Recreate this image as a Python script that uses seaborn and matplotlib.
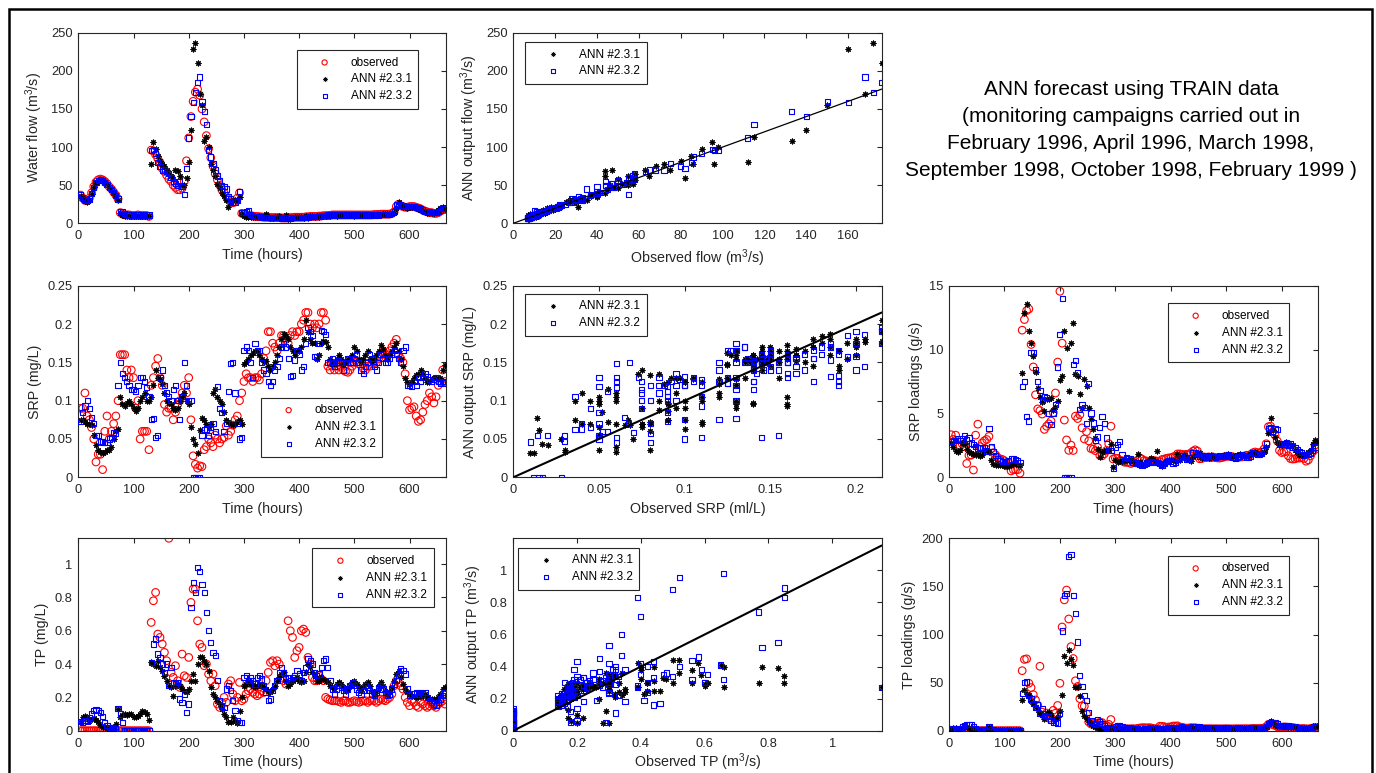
import numpy as np
import pandas as pd
import matplotlib
matplotlib.use("Agg")
import matplotlib.pyplot as plt
import seaborn as sns
from matplotlib.patches import Rectangle

# ---------------- data (4-hour sampling grid) ----------------
hours = np.arange(4, 668, 4)

flow_obs = [
    37, 33, 30, 30, 33, 40, 48, 54, 57, 58,
    57, 55, 52, 48, 45, 41, 37, 32, 14, 12,
    11, 11, 11, 10, 10, 10, 11, 10, 10, 10,
    10, 9, 96, 95, 90, 85, 80, 72, 68, 63,
    58, 55, 50, 47, 44, 44, 46, 55, 82, 112,
    140, 160, 172, 176, 168, 150, 133, 115, 98, 86,
    75, 65, 57, 50, 44, 40, 35, 31, 28, 27,
    28, 33, 40, 13, 12, 11, 10, 10, 9.5, 9,
    9, 8.5, 8.5, 8, 8, 8, 7.5, 7.5, 7.5, 7.5,
    7.5, 7, 7, 7, 7, 7.5, 7.5, 8, 8, 8,
    8, 8, 8.5, 8.5, 9, 9, 9, 9, 9.5, 9.5,
    10, 10, 10, 10.5, 11, 11, 11, 11, 11, 11,
    11, 11, 11, 11, 11, 11, 11, 11, 11, 11,
    11, 11, 11, 11.5, 11.5, 11.5, 12, 12, 12, 12,
    12, 13, 15, 22, 25, 23, 22, 21, 21, 22,
    22, 22, 21, 20, 19, 17, 16, 15, 14, 14,
    13, 13, 14, 16, 18, 18]

flow_ann1 = [
    36, 32, 29, 28, 31, 39, 47, 53, 56, 57,
    56, 54, 51, 47, 44, 40, 36, 31, 13, 11,
    10, 10, 10, 10, 10, 10, 10, 10, 10, 10,
    10, 10, 78, 107, 97, 88, 82, 78, 75, 70,
    65, 62, 58, 70, 68, 62, 50, 50, 60, 80,
    122, 229, 236, 210, 170, 155, 108, 113, 100, 78,
    70, 62, 52, 46, 40, 36, 30, 22, 28, 30,
    30, 30, 35, 12, 9, 8, 8, 8, 8, 8,
    8, 9, 8, 8, 12, 8, 7, 7, 8, 8,
    9, 8, 7, 11, 6, 5, 7, 8, 8, 8,
    8, 7, 9, 7, 9, 10, 8, 9, 8, 9,
    10, 10, 11, 10, 11, 11, 10, 11, 11, 11,
    11, 11, 11, 11, 10, 11, 11, 11, 11, 11,
    11, 11, 11, 11, 11, 11, 11, 12, 12, 12,
    12, 12, 14, 20, 28, 24, 22, 21, 20, 21,
    21, 21, 20, 19, 18, 16, 15, 14, 14, 14,
    14, 15, 17, 20, 21, 19]

flow_ann2 = [
    38, 34, 31, 30, 32, 39, 47, 53, 56, 57,
    56, 54, 51, 47, 44, 40, 36, 32, 16, 15,
    13, 12, 11, 11, 11, 11, 11, 11, 11, 11,
    11, 11, 95, 97, 92, 80, 75, 70, 70, 68,
    65, 60, 55, 52, 50, 55, 48, 38, 72, 112,
    140, 158, 172, 185, 192, 160, 147, 130, 96, 87,
    78, 70, 62, 56, 50, 48, 45, 35, 32, 28,
    28, 30, 42, 14, 14, 15, 17, 12, 10, 9,
    9, 9, 8, 8, 8, 8, 8, 8, 8, 8,
    8, 7, 7, 7, 7, 7, 8, 8, 8, 8,
    8, 8, 8, 8, 9, 9, 9, 9, 9, 10,
    10, 10, 11, 11, 11, 11, 11, 11, 11, 11,
    11, 11, 11, 11, 11, 11, 11, 11, 11, 11,
    11, 11, 11, 11, 11, 11, 12, 12, 12, 12,
    12, 13, 16, 24, 25, 24, 23, 22, 22, 22,
    22, 22, 21, 20, 19, 18, 16, 15, 15, 14,
    14, 14, 15, 17, 19, 19]

srp_obs = [
    0.09, 0.09, 0.11, 0.08, 0.075, 0.065, 0.05, 0.02, 0.03, 0.03,
    0.01, 0.06, 0.08, 0.05, 0.06, 0.07, 0.08, 0.10, 0.16, 0.16,
    0.16, 0.14, 0.13, 0.14, 0.13, 0.09, 0.10, 0.05, 0.06, 0.06,
    0.06, 0.036, 0.12, 0.13, 0.145, 0.155, 0.13, 0.12, 0.095, 0.085,
    0.09, 0.09, 0.075, 0.085, 0.095, 0.10, 0.11, 0.12, 0.11, 0.13,
    0.075, 0.028, 0.017, 0.012, 0.015, 0.014, 0.036, 0.04, 0.05, 0.045,
    0.04, 0.055, 0.05, 0.045, 0.05, 0.052, 0.067, 0.055, 0.06, 0.068,
    0.075, 0.08, 0.10, 0.11, 0.125, 0.135, 0.13, 0.13, 0.125, 0.13,
    0.13, 0.127, 0.135, 0.155, 0.165, 0.19, 0.19, 0.175, 0.17, 0.165,
    0.175, 0.185, 0.185, 0.18, 0.175, 0.185, 0.19, 0.185, 0.19, 0.19,
    0.20, 0.205, 0.215, 0.215, 0.20, 0.195, 0.20, 0.195, 0.20, 0.215,
    0.215, 0.205, 0.145, 0.14, 0.145, 0.14, 0.145, 0.14, 0.145, 0.14,
    0.138, 0.137, 0.14, 0.145, 0.15, 0.15, 0.148, 0.146, 0.142, 0.14,
    0.145, 0.145, 0.148, 0.15, 0.15, 0.155, 0.16, 0.165, 0.16, 0.16,
    0.165, 0.17, 0.175, 0.18, 0.16, 0.155, 0.15, 0.135, 0.10, 0.088,
    0.09, 0.092, 0.08, 0.073, 0.075, 0.085, 0.095, 0.10, 0.11, 0.105,
    0.097, 0.105, 0.12, 0.125, 0.14, 0.125]

srp_ann1 = [
    0.075, 0.075, 0.072, 0.07, 0.07, 0.068, 0.055, 0.042, 0.035, 0.033,
    0.032, 0.033, 0.035, 0.035, 0.04, 0.05, 0.06, 0.063, 0.105, 0.095,
    0.093, 0.097, 0.10, 0.095, 0.09, 0.087, 0.09, 0.10, 0.105, 0.11,
    0.10, 0.10, 0.105, 0.12, 0.14, 0.13, 0.128, 0.122, 0.11, 0.10,
    0.097, 0.095, 0.09, 0.088, 0.09, 0.10, 0.105, 0.11, 0.10, 0.095,
    0.065, 0.05, 0.043, 0.032, 0.062, 0.078, 0.075, 0.07, 0.065, 0.07,
    0.11, 0.115, 0.105, 0.10, 0.095, 0.085, 0.075, 0.072, 0.07, 0.068,
    0.07, 0.072, 0.075, 0.07, 0.148, 0.15, 0.155, 0.16, 0.162, 0.165,
    0.165, 0.16, 0.155, 0.15, 0.152, 0.145, 0.14, 0.145, 0.15, 0.16,
    0.17, 0.18, 0.187, 0.185, 0.18, 0.17, 0.165, 0.16, 0.165, 0.165,
    0.17, 0.18, 0.205, 0.19, 0.18, 0.175, 0.175, 0.155, 0.16, 0.175,
    0.178, 0.176, 0.17, 0.155, 0.148, 0.148, 0.155, 0.16, 0.155, 0.148,
    0.15, 0.155, 0.155, 0.16, 0.17, 0.165, 0.155, 0.15, 0.155, 0.16,
    0.165, 0.155, 0.15, 0.155, 0.16, 0.165, 0.172, 0.168, 0.16, 0.155,
    0.16, 0.165, 0.17, 0.175, 0.165, 0.155, 0.145, 0.13, 0.125, 0.122,
    0.125, 0.13, 0.133, 0.135, 0.14, 0.135, 0.13, 0.125, 0.125, 0.128,
    0.13, 0.13, 0.128, 0.13, 0.14, 0.147]

srp_ann2 = [
    0.073, 0.085, 0.093, 0.10, 0.09, 0.078, 0.07, 0.055, 0.055, 0.047,
    0.046, 0.045, 0.045, 0.05, 0.052, 0.058, 0.057, 0.12, 0.15, 0.135,
    0.13, 0.125, 0.12, 0.115, 0.115, 0.112, 0.12, 0.13, 0.13, 0.125,
    0.117, 0.105, 0.075, 0.077, 0.052, 0.055, 0.13, 0.14, 0.12, 0.11,
    0.105, 0.10, 0.115, 0.12, 0.10, 0.075, 0.105, 0.15, 0.12, 0.10,
    0.10, 0.0, 0.0, 0.0, 0.0, 0.055, 0.062, 0.063, 0.055, 0.065,
    0.07, 0.06, 0.118, 0.09, 0.085, 0.06, 0.07, 0.112, 0.148, 0.15,
    0.11, 0.07, 0.05, 0.052, 0.165, 0.17, 0.165, 0.15, 0.13, 0.175,
    0.165, 0.165, 0.15, 0.14, 0.135, 0.125, 0.12, 0.125, 0.14, 0.145,
    0.155, 0.17, 0.175, 0.17, 0.155, 0.132, 0.133, 0.153, 0.165, 0.16,
    0.14, 0.145, 0.175, 0.195, 0.19, 0.185, 0.158, 0.157, 0.175, 0.192,
    0.19, 0.186, 0.15, 0.15, 0.155, 0.145, 0.15, 0.152, 0.15, 0.14,
    0.15, 0.155, 0.15, 0.15, 0.155, 0.16, 0.15, 0.14, 0.135, 0.145,
    0.15, 0.16, 0.155, 0.145, 0.14, 0.15, 0.16, 0.155, 0.15, 0.15,
    0.155, 0.16, 0.165, 0.16, 0.155, 0.15, 0.165, 0.17, 0.12, 0.12,
    0.118, 0.125, 0.12, 0.13, 0.125, 0.13, 0.135, 0.132, 0.128, 0.125,
    0.128, 0.13, 0.125, 0.123, 0.125, 0.123]

tp_obs = [
    0, 0, 0, 0, 0, 0, 0, 0, 0, 0,
    0, 0, 0, 0, 0, 0, 0, 0, 0, 0,
    0, 0, 0, 0, 0, 0, 0, 0, 0, 0,
    0, 0, 0.65, 0.78, 0.83, 0.58, 0.56, 0.52, 0.47, 0.42,
    1.155, 0.35, 0.32, 0.39, 0.30, 0.26, 0.46, 0.33, 0.32, 0.44,
    0.77, 0.85, 0.85, 0.66, 0.52, 0.50, 0.39, 0.40, 0.34, 0.30,
    0.34, 0.27, 0.16, 0.14, 0.17, 0.20, 0.17, 0.28, 0.30, 0.22,
    0.18, 0.20, 0.29, 0.18, 0.19, 0.22, 0.24, 0.25, 0.23, 0.22,
    0.21, 0.22, 0.24, 0.23, 0.30, 0.35, 0.41, 0.42, 0.39, 0.42,
    0.40, 0.32, 0.30, 0.28, 0.66, 0.60, 0.56, 0.44, 0.48, 0.50,
    0.60, 0.61, 0.59, 0.44, 0.40, 0.32, 0.30, 0.30, 0.33, 0.31,
    0.30, 0.20, 0.19, 0.185, 0.18, 0.18, 0.18, 0.175, 0.17, 0.18,
    0.18, 0.17, 0.17, 0.175, 0.18, 0.175, 0.17, 0.175, 0.18, 0.18,
    0.17, 0.18, 0.185, 0.18, 0.17, 0.18, 0.19, 0.185, 0.18, 0.19,
    0.20, 0.22, 0.27, 0.30, 0.29, 0.27, 0.25, 0.20, 0.17, 0.15,
    0.18, 0.17, 0.15, 0.14, 0.17, 0.16, 0.15, 0.14, 0.15, 0.16,
    0.15, 0.14, 0.16, 0.17, 0.18, 0.16]

tp_ann1 = [
    0.06, 0.08, 0.09, 0.075, 0.06, 0.07, 0.075, 0.065, 0.05, 0.035,
    0.025, 0.02, 0.015, 0.01, 0.0, 0.01, 0.04, 0.13, 0.08, 0.095,
    0.10, 0.095, 0.10, 0.10, 0.08, 0.085, 0.09, 0.10, 0.12, 0.115,
    0.10, 0.065, 0.41, 0.40, 0.39, 0.42, 0.38, 0.36, 0.33, 0.30,
    0.27, 0.26, 0.21, 0.27, 0.28, 0.27, 0.25, 0.24, 0.23, 0.25,
    0.30, 0.34, 0.30, 0.40, 0.44, 0.44, 0.42, 0.40, 0.36, 0.26,
    0.22, 0.20, 0.18, 0.16, 0.13, 0.10, 0.08, 0.05, 0.05, 0.08,
    0.06, 0.045, 0.12, 0.20, 0.27, 0.28, 0.30, 0.28, 0.27, 0.26,
    0.27, 0.28, 0.27, 0.26, 0.25, 0.24, 0.23, 0.25, 0.27, 0.30,
    0.32, 0.34, 0.35, 0.30, 0.27, 0.28, 0.30, 0.31, 0.32, 0.30,
    0.29, 0.30, 0.35, 0.40, 0.38, 0.35, 0.33, 0.30, 0.30, 0.32,
    0.31, 0.30, 0.29, 0.27, 0.26, 0.25, 0.28, 0.29, 0.28, 0.26,
    0.24, 0.25, 0.27, 0.29, 0.30, 0.28, 0.26, 0.24, 0.26, 0.28,
    0.29, 0.27, 0.24, 0.22, 0.24, 0.27, 0.29, 0.27, 0.24, 0.22,
    0.23, 0.26, 0.30, 0.34, 0.36, 0.32, 0.28, 0.25, 0.23, 0.22,
    0.21, 0.21, 0.20, 0.20, 0.21, 0.21, 0.22, 0.20, 0.19, 0.19,
    0.19, 0.18, 0.20, 0.22, 0.25, 0.26]

tp_ann2 = [
    0.055, 0.05, 0.06, 0.055, 0.08, 0.10, 0.12, 0.125, 0.12, 0.11,
    0.085, 0.05, 0.03, 0.02, 0.02, 0.02, 0.01, 0.135, 0.10, 0.05,
    0, 0, 0, 0, 0, 0, 0, 0, 0, 0,
    0, 0, 0.41, 0.52, 0.55, 0.46, 0.44, 0.40, 0.35, 0.40,
    0.27, 0.38, 0.29, 0.28, 0.29, 0.19, 0.17, 0.22, 0.11, 0.16,
    0.74, 0.89, 0.83, 0.98, 0.955, 0.88, 0.83, 0.71, 0.60, 0.53,
    0.47, 0.45, 0.30, 0.18, 0.15, 0.14, 0.25, 0.27, 0.24, 0.18,
    0.12, 0.06, 0.05, 0.05, 0.32, 0.33, 0.30, 0.32, 0.30, 0.28,
    0.32, 0.33, 0.31, 0.27, 0.23, 0.18, 0.19, 0.24, 0.27, 0.30,
    0.35, 0.38, 0.35, 0.31, 0.32, 0.30, 0.32, 0.33, 0.36, 0.34,
    0.30, 0.35, 0.38, 0.43, 0.42, 0.40, 0.35, 0.33, 0.34, 0.38,
    0.42, 0.43, 0.38, 0.30, 0.25, 0.22, 0.25, 0.27, 0.26, 0.24,
    0.22, 0.25, 0.27, 0.29, 0.27, 0.25, 0.23, 0.22, 0.24, 0.27,
    0.26, 0.24, 0.22, 0.21, 0.23, 0.26, 0.27, 0.25, 0.23, 0.21,
    0.22, 0.25, 0.28, 0.30, 0.33, 0.37, 0.36, 0.34, 0.25, 0.21,
    0.22, 0.22, 0.23, 0.22, 0.23, 0.22, 0.23, 0.20, 0.18, 0.17,
    0.16, 0.15, 0.17, 0.19, 0.21, 0.23]

series_labels = ["observed", "ANN #2.3.1", "ANN #2.3.2"]
title_lines = ["ANN forecast using TRAIN data",
               "(monitoring campaigns carried out in",
               "February 1996, April 1996, March 1998,",
               "September 1998, October 1998, February 1999 )"]

df = pd.DataFrame({
    "hours": hours,
    "flow_obs": flow_obs, "flow_ann1": flow_ann1, "flow_ann2": flow_ann2,
    "srp_obs": srp_obs, "srp_ann1": srp_ann1, "srp_ann2": srp_ann2,
    "tp_obs": tp_obs, "tp_ann1": tp_ann1, "tp_ann2": tp_ann2,
})
# loadings (g/s) = flow (m3/s) x concentration (mg/L = g/m3)
for k in ("obs", "ann1", "ann2"):
    df["srpload_" + k] = df["flow_" + k] * df["srp_" + k]
    df["tpload_" + k] = df["flow_" + k] * df["tp_" + k]

# ---------------- style ----------------
sns.set_style("white")
plt.rcParams["font.family"] = ["Liberation Sans", "DejaVu Sans"]
plt.rcParams["mathtext.default"] = "regular"
DARK = "#262626"
TICK_FS = 9.3
LAB_FS = 10.3

W, H = 1376, 773
fig = plt.figure(figsize=(W / 100, H / 100), dpi=100)
fig.patch.set_facecolor("white")

def add_ax(left, top, right, bottom):
    return fig.add_axes([left / W, 1 - bottom / H, (right - left) / W, (bottom - top) / H])

cols = [(78.3, 446.0), (513.3, 881.7), (949.0, 1318.3)]
rows = [(32.7, 223.3), (285.7, 477.3), (538.3, 730.7)]

def style(ax):
    for s in ax.spines.values():
        s.set_visible(True)
        s.set_color(DARK)
        s.set_linewidth(0.8)
    ax.tick_params(axis="both", which="both", direction="in", top=True, right=True,
                   length=3.5, width=0.8, colors=DARK, labelsize=TICK_FS)
    ax.tick_params(axis="x", pad=5)
    ax.tick_params(axis="y", pad=4)
    ax.set_facecolor("white")

OBS_KW = dict(marker="o", s=30, facecolor="none", edgecolor="red", linewidth=0.8)
A1_KW = dict(marker=(8, 1, 0), s=20, facecolor="black", edgecolor="black", linewidth=0.5)
A2_KW = dict(marker="s", s=14, facecolor="none", edgecolor="blue", linewidth=0.8)
LEG_SIZES = {"observed": 14, "ANN #2.3.1": 10, "ANN #2.3.2": 8}

def legend(ax, handles, labels, loc, anchor):
    lg = ax.legend(handles, labels, loc=loc, bbox_to_anchor=anchor, frameon=True,
                   fancybox=False, edgecolor=DARK, framealpha=1, fontsize=8.5,
                   borderpad=0.55, labelspacing=0.42, handlelength=3.64,
                   handletextpad=0.38, borderaxespad=0, scatterpoints=1)
    lg.get_frame().set_linewidth(0.8)
    for t in lg.get_texts():
        t.set_color("black")
    for hd, lab in zip(lg.legend_handles, labels):
        hd.set_sizes([LEG_SIZES[lab]])

def time_panel(ax, key, ylabel, ylim, yticks, loc, anchor):
    sns.scatterplot(data=df, x="hours", y=key + "_obs", ax=ax, legend=False, zorder=2, **OBS_KW)
    sns.scatterplot(data=df, x="hours", y=key + "_ann1", ax=ax, legend=False, zorder=3, **A1_KW)
    sns.scatterplot(data=df, x="hours", y=key + "_ann2", ax=ax, legend=False, zorder=4, **A2_KW)
    ax.set_xlim(0, 666)
    ax.set_ylim(*ylim)
    ax.set_xticks([0, 100, 200, 300, 400, 500, 600])
    ax.set_yticks(yticks)
    ax.set_xlabel("Time (hours)", fontsize=LAB_FS, color=DARK)
    ax.set_ylabel(ylabel, fontsize=LAB_FS, color=DARK)
    style(ax)
    legend(ax, ax.collections[:3], series_labels, loc, anchor)

def scatter_panel(ax, key, xlabel, ylabel, ylim, xticks, yticks, lw, loc, anchor, xlabelpad=4):
    sns.scatterplot(data=df, x=key + "_obs", y=key + "_ann1", ax=ax, legend=False, zorder=3, **A1_KW)
    sns.scatterplot(data=df, x=key + "_obs", y=key + "_ann2", ax=ax, legend=False, zorder=4, **A2_KW)
    xmax = float(df[key + "_obs"].max())
    sns.lineplot(x=[0.0, xmax], y=[0.0, xmax], ax=ax, color="black", linewidth=lw, zorder=5)
    ax.set_xlim(0, xmax)
    ax.set_ylim(*ylim)
    ax.set_xticks(xticks)
    ax.set_yticks(yticks)
    ax.set_xlabel(xlabel, fontsize=LAB_FS, color=DARK, labelpad=xlabelpad)
    ax.set_ylabel(ylabel, fontsize=LAB_FS, color=DARK)
    style(ax)
    legend(ax, ax.collections[:2], series_labels[1:], loc, anchor)

# Row 1
ax1 = add_ax(cols[0][0], rows[0][0], cols[0][1], rows[0][1])
time_panel(ax1, "flow", "Water flow (m$^3$/s)", (0, 250), [0, 50, 100, 150, 200, 250],
           "upper right", (0.924, 0.909))
ax2 = add_ax(cols[1][0], rows[0][0], cols[1][1], rows[0][1])
scatter_panel(ax2, "flow", "Observed flow (m$^3$/s)", "ANN output flow (m$^3$/s)", (0, 250),
              [0, 20, 40, 60, 80, 100, 120, 140, 160], [0, 50, 100, 150, 200, 250], 0.9,
              "upper left", (0.032, 0.951))

# Row 2
ax3 = add_ax(cols[0][0], rows[1][0], cols[0][1], rows[1][1])
time_panel(ax3, "srp", "SRP (mg/L)", (0, 0.25), [0, 0.05, 0.1, 0.15, 0.2, 0.25],
           "upper left", (0.496, 0.415))
ax3.set_yticklabels(["0", "0.05", "0.1", "0.15", "0.2", "0.25"])
ax4 = add_ax(cols[1][0], rows[1][0], cols[1][1], rows[1][1])
scatter_panel(ax4, "srp", "Observed SRP (ml/L)", "ANN output SRP (mg/L)", (0, 0.25),
              [0, 0.05, 0.1, 0.15, 0.2], [0, 0.05, 0.1, 0.15, 0.2, 0.25], 1.5,
              "upper left", (0.032, 0.957))
ax4.set_xticklabels(["0", "0.05", "0.1", "0.15", "0.2"])
ax4.set_yticklabels(["0", "0.05", "0.1", "0.15", "0.2", "0.25"])
ax5 = add_ax(cols[2][0], rows[1][0], cols[2][1], rows[1][1])
time_panel(ax5, "srpload", "SRP loadings (g/s)", (0, 15), [0, 5, 10, 15],
           "upper right", (0.921, 0.908))

# Row 3
ax6 = add_ax(cols[0][0], rows[2][0], cols[0][1], rows[2][1])
time_panel(ax6, "tp", "TP (mg/L)", (0, float(df["tp_obs"].max())), [0, 0.2, 0.4, 0.6, 0.8, 1.0],
           "upper right", (0.967, 0.948))
ax6.set_yticklabels(["0", "0.2", "0.4", "0.6", "0.8", "1"])
ax7 = add_ax(cols[1][0], rows[2][0], cols[1][1], rows[2][1])
scatter_panel(ax7, "tp", "Observed TP (m$^3$/s)", "ANN output TP (m$^3$/s)", (0, 1.2),
              [0, 0.2, 0.4, 0.6, 0.8, 1.0], [0, 0.2, 0.4, 0.6, 0.8, 1.0], 1.5,
              "upper left", (0.012, 0.951), xlabelpad=1.5)
ax7.set_xticklabels(["0", "0.2", "0.4", "0.6", "0.8", "1"])
ax7.set_yticklabels(["0", "0.2", "0.4", "0.6", "0.8", "1"])
ax8 = add_ax(cols[2][0], rows[2][0], cols[2][1], rows[2][1])
time_panel(ax8, "tpload", "TP loadings (g/s)", (0, 200), [0, 50, 100, 150, 200],
           "upper right", (0.921, 0.908))

# Title block (top right)
fig.text(1131 / W, 1 - 130 / H, "\n".join(title_lines), ha="center", va="center",
         fontsize=15, linespacing=1.54, color="black")

# Outer frame
fig.patches.append(Rectangle((8.5 / W, -0.05), (1372 - 8.5) / W, 1 - 8.5 / H + 0.05,
                             transform=fig.transFigure, fill=False, edgecolor="black",
                             linewidth=1.8, zorder=10))

fig.savefig("out.png", dpi=100, facecolor="white")
